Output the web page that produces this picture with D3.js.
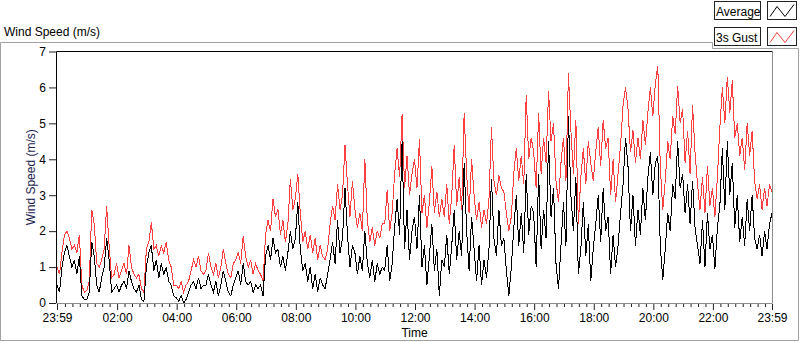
<!DOCTYPE html>
<html>
<head>
<meta charset="utf-8">
<title>Wind Speed (m/s)</title>
<script src="https://d3js.org/d3.v7.min.js"></script>
<style>
  body { margin: 0; background: #fff; }
  svg { display: block; font-family: "Liberation Sans", Arial, sans-serif; font-size: 12px; }
  .axis path.domain { display: none; }
  .axis text { fill: #000; font-size: 12px; }
  .axis line { stroke: #222; }
</style>
</head>
<body>
<div id="chart"></div>
<script>
// 5 minute samples starting at 23:59 the day before
const sampleMinutes = 5;
const seriesNames = ["Average", "3s Gust"];
const seriesColors = ["#000000", "#ff4040"];

const avgSpeed = [
  0.5, 0.3, 1.0, 1.4, 1.6, 1.3, 1.0, 1.2, 0.8, 1.3, 0.2, 0.1,
  0.1, 0.3, 1.7, 1.3, 0.5, 0.3, 0.7, 1.0, 1.8, 1.2, 0.3, 0.4,
  0.5, 0.3, 0.5, 0.6, 0.4, 0.9, 0.6, 0.4, 0.3, 0.5, 0.1, 0.05,
  1.0, 1.4, 1.6, 0.9, 1.2, 0.7, 1.1, 0.8, 1.0, 0.6, 0.5, 0.2,
  0.15, 0.05, 0.2, 0.0, 0.1, 0.3, 0.5, 0.6, 0.4, 0.7, 0.4, 0.5,
  0.5, 0.8, 0.5, 0.3, 0.6, 0.2, 0.5, 0.9, 0.6, 0.3, 0.2, 0.5,
  0.7, 0.9, 0.5, 1.1, 0.6, 0.5, 0.6, 0.3, 0.5, 0.4, 0.5, 0.2,
  1.3, 1.6, 1.2, 1.8, 1.4, 1.5, 1.0, 1.3, 0.9, 1.4, 2.0, 1.5,
  1.8, 2.8, 1.5, 0.9, 1.1, 0.6, 1.0, 0.4, 0.8, 0.3, 0.7, 0.5,
  0.4, 0.8, 1.2, 1.7, 1.1, 2.3, 1.4, 1.8, 3.2, 1.9, 1.0, 1.6,
  1.4, 0.8, 1.3, 0.9, 2.0, 1.1, 0.7, 1.2, 0.6, 1.1, 0.8, 1.0,
  0.9, 1.6, 0.6, 1.1, 2.1, 2.9, 1.9, 4.5, 1.5, 2.6, 1.2, 2.0,
  2.4, 1.5, 3.0, 1.0, 1.6, 0.5, 1.3, 2.2, 0.9, 1.5, 0.2, 1.2,
  1.0, 1.9, 0.8, 1.6, 2.6, 1.2, 2.0, 1.3, 3.9, 2.0, 0.9, 2.4,
  1.5, 0.6, 1.6, 0.5, 1.2, 0.7, 1.5, 3.45, 1.8, 1.3, 2.6, 1.6,
  1.8, 0.9, 0.2, 1.0, 2.1, 3.0, 1.6, 2.5, 1.4, 3.6, 1.9, 2.7,
  2.5, 1.0, 3.6, 1.5, 2.6, 1.8, 4.5, 2.4, 3.2, 1.1, 0.4, 1.6,
  2.8, 1.6, 5.2, 3.0, 2.0, 3.5, 0.8, 1.5, 2.8, 1.3, 2.2, 0.6,
  1.5, 2.2, 3.0, 1.7, 3.2, 2.0, 2.4, 0.8, 1.9, 1.0, 1.6, 2.5,
  3.3, 4.6, 3.8, 2.0, 3.0, 1.6, 2.6, 1.9, 3.2, 2.3, 3.5, 4.2,
  3.0, 3.9, 4.1, 1.6, 0.65, 1.5, 2.5, 2.0, 3.3, 2.9, 4.5, 3.2,
  3.6, 2.5, 3.3, 2.2, 3.4, 2.1, 1.6, 1.1, 2.3, 1.0, 2.5, 1.5,
  1.9, 0.95, 2.1, 2.7, 4.3, 2.6, 4.5, 3.0, 3.9, 2.1, 3.0, 1.7,
  2.4, 1.6, 2.9, 2.0, 3.0, 1.8, 1.5, 1.9, 1.3, 2.0, 1.5, 2.2,
  2.5
];

const gustSpeed = [
  1.0, 0.8, 1.4, 1.9, 2.0, 1.8, 1.5, 1.6, 1.4, 1.9, 0.5, 0.3,
  0.35, 0.6, 2.6, 2.2, 1.1, 1.0, 1.2, 1.5, 2.7, 1.6, 0.7, 0.8,
  1.1, 0.7, 0.9, 1.1, 0.8, 1.6, 1.0, 0.8, 0.7, 0.8, 0.4, 0.3,
  1.5, 1.7, 2.25, 1.5, 1.6, 1.3, 1.6, 1.4, 1.7, 1.2, 1.0, 0.5,
  0.5, 0.4, 0.6, 0.3, 0.5, 0.6, 0.9, 1.2, 1.0, 1.3, 0.9, 0.8,
  0.9, 1.4, 1.0, 0.8, 1.1, 0.7, 1.0, 1.5, 1.1, 0.8, 0.7, 1.1,
  1.2, 1.4, 1.1, 1.85, 1.3, 1.0, 1.2, 0.8, 1.1, 0.9, 0.8, 0.6,
  1.9, 2.3, 2.0, 2.9, 2.4, 2.6, 1.9, 2.3, 1.7, 2.2, 3.45, 2.6,
  2.9, 3.6, 2.5, 1.7, 2.0, 1.5, 1.9, 1.4, 1.8, 1.2, 1.6, 1.3,
  1.2, 1.5, 2.2, 2.7, 2.3, 3.3, 2.6, 3.0, 4.4, 3.3, 2.4, 3.4,
  2.6, 2.1, 2.5, 2.0, 4.0, 2.3, 1.7, 2.1, 1.6, 2.0, 1.8, 2.2,
  2.2, 3.15, 2.0, 2.5, 3.6, 4.3, 3.5, 5.25, 3.2, 4.1, 3.0, 3.6,
  4.0, 3.2, 4.55, 2.5, 3.0, 2.1, 2.8, 3.8, 2.5, 3.1, 2.4, 2.9,
  2.4, 3.3, 2.2, 3.0, 4.4, 2.7, 3.5, 2.6, 5.3, 3.6, 2.5, 4.0,
  3.0, 2.3, 2.8, 2.1, 2.6, 2.2, 2.9, 4.9, 3.4, 3.0, 3.55, 3.2,
  3.1, 2.5, 2.0, 2.4, 3.6, 4.3, 3.4, 4.1, 3.3, 5.8, 4.0, 4.6,
  4.2, 3.2, 5.3, 3.6, 4.6, 3.9, 5.9, 4.5, 5.0, 3.4, 2.8, 3.9,
  4.6, 3.4, 6.4, 4.8, 3.6, 5.1, 2.2, 3.5, 4.3, 3.3, 4.5, 3.9,
  3.4, 4.2, 4.9, 3.8, 5.1, 4.3, 4.6, 3.0, 4.0, 2.8, 3.6, 4.4,
  5.5, 6.0, 5.4, 4.2, 4.8, 3.9, 4.6, 4.0, 5.1, 4.4, 5.3, 6.0,
  5.2, 6.1, 6.6, 3.8, 2.6, 3.4, 4.5, 4.0, 5.2, 4.7, 6.05, 5.0,
  5.4, 3.9, 4.8, 3.6, 5.5, 4.2, 3.3, 2.6, 3.5, 2.5, 3.8, 2.7,
  3.2, 2.4, 3.5, 4.9, 6.0, 5.0, 6.3, 5.3, 6.2, 4.6, 5.0, 4.1,
  4.6, 3.7, 5.0, 4.1, 4.8, 3.4, 2.9, 3.3, 2.6, 3.2, 2.7, 3.3,
  3.1
];

const yTicks = [0, 1, 2, 3, 4, 5, 6, 7];
const xTickLabels = ["23:59", "02:00", "04:00", "06:00", "08:00", "10:00", "12:00",
                     "14:00", "16:00", "18:00", "20:00", "22:00", "23:59"];

const width = 800, height = 342;
const plot = { left: 57, right: 772, top: 51.5, bottom: 303 };

const t0 = new Date(2000, 0, 1, 23, 59);
const t1 = new Date(2000, 0, 2, 23, 59);
const parseTime = d3.timeParse("%Y-%m-%d %H:%M");
const xTickDates = xTickLabels.map((s, i) => i === 0 ? t0 : parseTime("2000-01-02 " + s));
const minorDates = d3.timeMinute.every(15).range(new Date(2000, 0, 2, 0, 15), t1)
  .filter(d => d.getMinutes() !== 0 || d.getHours() % 2 === 1);

const x = d3.scaleTime().domain([t0, t1]).range([plot.left, plot.right]);
const y = d3.scaleLinear().domain([0, 7]).range([plot.bottom, plot.top]);

const svg = d3.select("#chart").append("svg").attr("width", width).attr("height", height);

// outer panel frame (notched under the legend)
svg.append("path")
  .attr("d", "M0.5,340.5 V42.5 H712.5 V48.5 H798.5 V340.5 Z")
  .attr("fill", "none").attr("stroke", "#a0a0a0");

svg.append("text").attr("x", 4).attr("y", 36).attr("fill", "#000").text("Wind Speed (m/s)");

svg.append("rect")
  .attr("x", plot.left - 0.5).attr("y", plot.top)
  .attr("width", plot.right - plot.left + 1).attr("height", plot.bottom - plot.top)
  .attr("fill", "#fff");

svg.append("clipPath").attr("id", "clip").append("rect")
  .attr("x", plot.left).attr("y", plot.top)
  .attr("width", plot.right - plot.left).attr("height", plot.bottom - plot.top + 1);

const line = d3.line()
  .x((d, i) => x(d3.timeMinute.offset(t0, i * sampleMinutes)))
  .y(d => y(d));

const g = svg.append("g").attr("clip-path", "url(#clip)");
[gustSpeed, avgSpeed].forEach((vals, k) => {
  g.append("path")
    .datum(vals)
    .attr("d", line)
    .attr("fill", "none")
    .attr("stroke", k === 0 ? seriesColors[1] : seriesColors[0])
    .attr("stroke-width", 1)
    .attr("shape-rendering", "crispEdges");
});

// plot frame
svg.append("line").attr("x1", plot.left - 0.5).attr("x2", plot.right + 0.5)
  .attr("y1", plot.top).attr("y2", plot.top).attr("stroke", "#000");
svg.append("line").attr("x1", plot.left - 0.5).attr("x2", plot.left - 0.5)
  .attr("y1", plot.top).attr("y2", plot.bottom).attr("stroke", "#000");
svg.append("line").attr("x1", plot.right + 0.5).attr("x2", plot.right + 0.5)
  .attr("y1", plot.top).attr("y2", plot.bottom).attr("stroke", "#8c8c8c");
svg.append("line").attr("x1", plot.left - 0.5).attr("x2", plot.right + 0.5)
  .attr("y1", plot.bottom + 0.5).attr("y2", plot.bottom + 0.5).attr("stroke", "#8c8c8c");

// axes
svg.append("g").attr("class", "axis")
  .attr("transform", `translate(${plot.left - 1},0)`)
  .call(d3.axisLeft(y).tickValues(yTicks).tickSize(7).tickPadding(3).tickFormat(d3.format("d")));

svg.append("g").attr("class", "axis")
  .attr("transform", `translate(0,${plot.bottom + 1})`)
  .call(d3.axisBottom(x).tickValues(xTickDates).tickSize(6).tickPadding(3)
    .tickFormat((d, i) => xTickLabels[i]));

svg.append("g").attr("class", "axis")
  .attr("transform", `translate(0,${plot.bottom + 1})`)
  .call(d3.axisBottom(x).tickValues(minorDates).tickSize(3).tickFormat(""));

svg.append("text")
  .attr("transform", `translate(35,${(plot.top + plot.bottom) / 2}) rotate(-90)`)
  .attr("text-anchor", "middle").attr("fill", "#1c2450")
  .text("Wind Speed (m/s)");

svg.append("text")
  .attr("x", (plot.left + plot.right) / 2).attr("y", 337)
  .attr("text-anchor", "middle").attr("fill", "#000")
  .text("Time");

// legend
const legend = svg.append("g");
seriesNames.forEach((name, i) => {
  const top = 1.5 + i * 26;
  legend.append("rect").attr("x", 714.5).attr("y", top).attr("width", 46).attr("height", 18)
    .attr("fill", "#fff").attr("stroke", "#222");
  legend.append("text").attr("x", 716).attr("y", top + 14).attr("fill", "#000").text(name);
  legend.append("rect").attr("x", 767.5).attr("y", top).attr("width", 29).attr("height", 18)
    .attr("fill", "#fff").attr("stroke", "#222");
  legend.append("path")
    .attr("d", `M770,${top + 15} L777,${top + 5} L785,${top + 15} L794,${top + 3}`)
    .attr("fill", "none").attr("stroke", seriesColors[i]);
});
</script>
</body>
</html>
